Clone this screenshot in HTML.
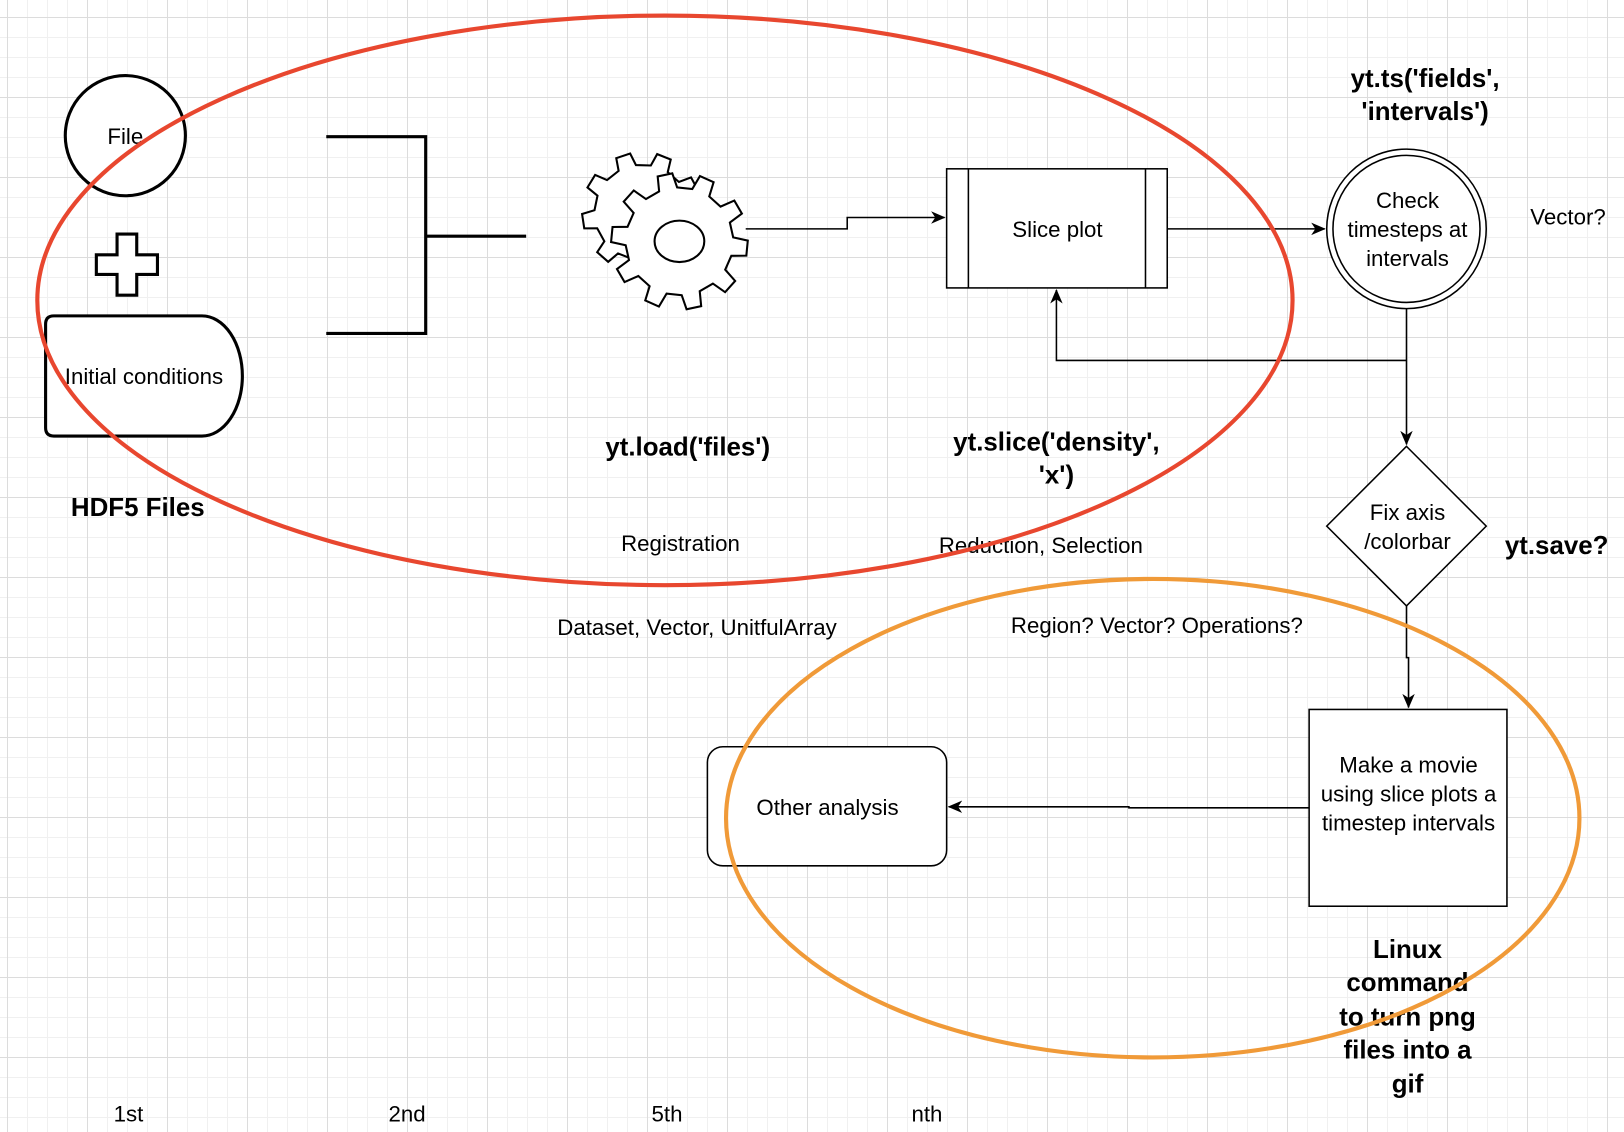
<!DOCTYPE html>
<html><head><meta charset="utf-8"><style>
html,body{margin:0;padding:0;}
body{width:1624px;height:1132px;overflow:hidden;background:#fff;
background-image:
linear-gradient(to right,#dcdcdc 1px,transparent 1px),
linear-gradient(to bottom,#dcdcdc 1px,transparent 1px),
linear-gradient(to right,#f0f0f0 1px,transparent 1px),
linear-gradient(to bottom,#f0f0f0 1px,transparent 1px);
background-size:80px 80px,80px 80px,20px 20px,20px 20px;
background-position:7px 0,0 17px,7px 0,0 17px;}
svg{position:absolute;left:0;top:0;}
text{font-family:"Liberation Sans",Arial,sans-serif;fill:#000;}
.t{font-size:21.5px;text-anchor:middle;}
.b{font-size:25px;font-weight:bold;text-anchor:middle;}
</style></head><body>
<svg width="1624" height="1132" viewBox="0 0 1568 1093" xmlns="http://www.w3.org/2000/svg">
<defs><marker id="a" markerWidth="14" markerHeight="14" refX="13" refY="7" orient="auto" markerUnits="userSpaceOnUse"><path d="M0,1 L14,7 L0,13 L4,7 z" fill="#000"/></marker></defs>
<g fill="none" stroke="#000" stroke-width="3">
<circle cx="121" cy="131" r="58" fill="#fff"/>
<path d="M113,226 h19 v20 h20 v19 h-20 v20 h-19 v-20 h-20 v-19 h20 z" fill="#fff"/>
<path d="M52,305 H195 A39,58 0 0 1 195,421 H52 Q44,421 44,413 V313 Q44,305 52,305 z" fill="#fff"/>
<path d="M315,132 H411 V322 H315 M411,228 H508"/>
</g>
<g id="gears" fill="#fff" stroke="#000" stroke-width="2"></g>
<g fill="none" stroke="#000" stroke-width="1.5">
<path d="M720,221 H818 V210 H912" marker-end="url(#a)"/>
<rect x="914" y="163" width="213" height="115" fill="#fff"/>
<path d="M935,163 V278 M1106,163 V278"/>
<path d="M1127,221 H1279" marker-end="url(#a)"/>
<circle cx="1358" cy="221" r="77" fill="#fff"/>
<circle cx="1358" cy="221" r="71"/>
<path d="M1358,298 V429" marker-end="url(#a)"/>
<path d="M1358,348 H1020 V280" marker-end="url(#a)"/>
<path d="M1358,431 L1435,508 L1358,585 L1281,508 z" fill="#fff"/>
<path d="M1358,585 V635 H1360 V683" marker-end="url(#a)"/>
<rect x="1264" y="685" width="191" height="190" fill="#fff"/>
<path d="M1264,780 H1090 V779 H916" marker-end="url(#a)"/>
<rect x="683" y="721" width="231" height="115" rx="15" fill="#fff"/>
</g>
<text class="t" x="121" y="139">File</text>
<text class="t" x="139" y="371">Initial conditions</text>
<text class="b" x="133" y="498">HDF5 Files</text>
<text class="t" x="1021" y="229">Slice plot</text>
<text class="t" x="1359" y="201">Check</text>
<text class="t" x="1359" y="229">timesteps at</text>
<text class="t" x="1359" y="257">intervals</text>
<text class="b" x="1376" y="84">yt.ts('fields',</text>
<text class="b" x="1376" y="116">'intervals')</text>
<text class="t" x="1514" y="217">Vector?</text>
<text class="t" x="1359" y="502">Fix axis</text>
<text class="t" x="1359" y="530">/colorbar</text>
<text class="b" x="1503" y="535">yt.save?</text>
<text class="t" x="1360" y="746">Make a movie</text>
<text class="t" x="1360" y="774">using slice plots a</text>
<text class="t" x="1360" y="802">timestep intervals</text>
<text class="t" x="799" y="787">Other analysis</text>
<text class="b" x="1359" y="925">Linux</text>
<text class="b" x="1359" y="957">command</text>
<text class="b" x="1359" y="990">to turn png</text>
<text class="b" x="1359" y="1022">files into a</text>
<text class="b" x="1359" y="1055">gif</text>
<text class="b" x="664" y="440">yt.load('files')</text>
<text class="b" x="1020" y="435">yt.slice('density',</text>
<text class="b" x="1020" y="467">'x')</text>
<text class="t" x="657" y="532">Registration</text>
<text class="t" x="1005" y="534">Reduction, Selection</text>
<text class="t" x="673" y="613">Dataset, Vector, UnitfulArray</text>
<text class="t" x="1117" y="611">Region? Vector? Operations?</text>
<text class="t" x="124" y="1083">1st</text>
<text class="t" x="393" y="1083">2nd</text>
<text class="t" x="644" y="1083">5th</text>
<text class="t" x="895" y="1083">nth</text>
<ellipse cx="642" cy="290" rx="606" ry="275" fill="none" stroke="#e8472f" stroke-width="4"/>
<ellipse cx="1113" cy="790" rx="412" ry="231" fill="none" stroke="#f09a38" stroke-width="4"/>
</svg>
<script>
function gear(cx,cy,ro,ri,n,rot){var p=[];for(var i=0;i<n;i++){var a=rot+i*2*Math.PI/n,s=Math.PI/n;
var pts=[[ri,a-s*0.55],[ro,a-s*0.35],[ro,a+s*0.35],[ri,a+s*0.55]];
pts.forEach(function(q){p.push((cx+q[0]*Math.cos(q[1])).toFixed(1)+","+(cy+q[0]*Math.sin(q[1])).toFixed(1));});}
return "M"+p.join(" L")+"z";}
var g=document.getElementById("gears");
g.innerHTML='<path d="'+gear(620,205,58,46,9,0.2)+'"/><path d="'+gear(656,233,66,52,10,0.1)+'"/><ellipse cx="656" cy="233" rx="24" ry="20"/>';
</script>
</body></html>
